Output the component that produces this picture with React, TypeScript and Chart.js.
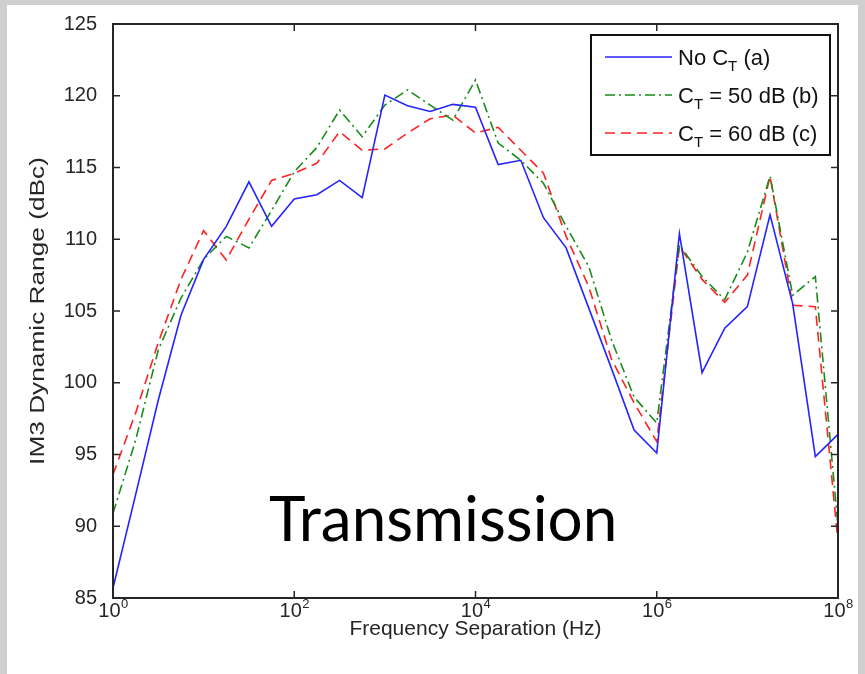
import React, { useEffect, useRef } from "react";
import { Chart, registerables } from "chart.js";

Chart.register(...registerables);

// ---- data ----
const freqHz = [
  1, 1.778, 3.162, 5.623, 10, 17.78, 31.62, 56.23, 100, 177.8, 316.2, 562.3,
  1000, 1778, 3162, 5623, 10000, 17783, 31623, 56234, 100000, 177828, 316228,
  562341, 1000000, 1778279, 3162278, 5623413, 10000000, 17782794, 31622777,
  56234133, 100000000,
];
const noCt = [
  85.7, 92.2, 98.8, 104.7, 108.6, 110.9, 114.0, 110.9, 112.8, 113.1, 114.1,
  112.9, 120.05, 119.3, 118.9, 119.4, 119.2, 115.2, 115.5, 111.5, 109.4, 105.2,
  101.0, 96.7, 95.1, 110.4, 100.7, 103.8, 105.3, 111.7, 105.5, 94.85, 96.4,
];
const ct50 = [
  90.9, 96.0, 102.3, 105.9, 108.6, 110.2, 109.4, 112.0, 114.7, 116.4, 119.0,
  117.15, 119.35, 120.4, 119.35, 118.3, 121.1, 116.7, 115.5, 113.9, 110.9,
  108.1, 103.0, 99.0, 97.2, 109.6, 107.4, 105.8, 109.1, 114.4, 106.1, 107.4,
  90.0,
];
const ct60 = [
  93.6, 97.9, 102.8, 107.2, 110.6, 108.55, 111.4, 114.1, 114.6, 115.3, 117.5,
  116.2, 116.3, 117.4, 118.4, 118.65, 117.4, 117.8, 116.2, 114.6, 110.2, 106.7,
  101.65, 98.6, 95.9, 109.5, 107.2, 105.6, 107.5, 114.4, 105.4, 105.3, 88.9,
];
const legendParts = [
  ["No C", "T", " (a)"],
  ["C", "T", " = 50 dB (b)"],
  ["C", "T", " = 60 dB (c)"],
];
const xTickValues = [1, 100, 10000, 1000000, 100000000];
const xTickBase = "10";
const xTickExps = ["0", "2", "4", "6", "8"];
const yTickValues = [85, 90, 95, 100, 105, 110, 115, 120, 125];
const xTitle = "Frequency Separation (Hz)";
const yTitle = "IM3 Dynamic Range (dBc)";
const annotationText = "Transmission";

const FONT = "'Liberation Sans', Arial, sans-serif";
const BLUE = "#2424ff";
const GREEN = "#1a8c1a";
const RED = "#ff2222";
const AXIS = "#262626";

const framePlugin = {
  id: "frame",
  afterDatasetsDraw(chart: any) {
    const { ctx, chartArea: a, scales } = chart;
    const xs = scales.x;
    const ys = scales.y;
    ctx.save();
    // box
    ctx.strokeStyle = AXIS;
    ctx.lineWidth = 2;
    ctx.strokeRect(a.left, a.top, a.right - a.left, a.bottom - a.top);
    // inward ticks
    ctx.lineWidth = 1.5;
    const tl = 7;
    const seg = (x1: number, y1: number, x2: number, y2: number) => {
      ctx.beginPath();
      ctx.moveTo(x1, y1);
      ctx.lineTo(x2, y2);
      ctx.stroke();
    };
    xTickValues.forEach((v) => {
      const px = xs.getPixelForValue(v);
      seg(px, a.bottom, px, a.bottom - tl);
      seg(px, a.top, px, a.top + tl);
    });
    yTickValues.forEach((v) => {
      const py = ys.getPixelForValue(v);
      seg(a.left, py, a.left + tl, py);
      seg(a.right, py, a.right - tl, py);
    });
    // x tick labels with superscript
    ctx.fillStyle = AXIS;
    ctx.textBaseline = "alphabetic";
    ctx.textAlign = "left";
    xTickValues.forEach((v, i) => {
      const px = xs.getPixelForValue(v);
      ctx.font = `20px ${FONT}`;
      const w1 = ctx.measureText(xTickBase).width;
      ctx.font = `13px ${FONT}`;
      const w2 = ctx.measureText(xTickExps[i]).width;
      const start = px - (w1 + w2) / 2;
      ctx.font = `20px ${FONT}`;
      ctx.fillText(xTickBase, start, a.bottom + 19);
      ctx.font = `13px ${FONT}`;
      ctx.fillText(xTickExps[i], start + w1 + 0.5, a.bottom + 10);
    });
    // y title (rotated, stretched along its length)
    ctx.save();
    ctx.translate(a.left - 75, (a.top + a.bottom) / 2);
    ctx.rotate(-Math.PI / 2);
    ctx.scale(1.25, 1);
    ctx.font = `21px ${FONT}`;
    ctx.textAlign = "center";
    ctx.textBaseline = "middle";
    ctx.fillStyle = AXIS;
    ctx.fillText(yTitle, 0, 0);
    ctx.restore();
    // legend
    const lx = a.right - 247;
    const ly = a.top + 11;
    const lw = 239;
    const lh = 120;
    ctx.fillStyle = "#ffffff";
    ctx.fillRect(lx, ly, lw, lh);
    ctx.strokeStyle = "#111";
    ctx.lineWidth = 2;
    ctx.strokeRect(lx, ly, lw, lh);
    const ds = chart.data.datasets;
    ctx.textAlign = "left";
    ctx.textBaseline = "alphabetic";
    legendParts.forEach((parts, i) => {
      const cy = ly + 22 + i * 38;
      const d = ds[i];
      ctx.strokeStyle = d.borderColor;
      ctx.lineWidth = d.borderWidth;
      ctx.setLineDash(d.borderDash || []);
      seg(lx + 14, cy, lx + 81, cy);
      ctx.setLineDash([]);
      ctx.fillStyle = "#111";
      let tx = lx + 87;
      ctx.font = `22px ${FONT}`;
      ctx.fillText(parts[0], tx, cy + 8);
      tx += ctx.measureText(parts[0]).width;
      ctx.font = `15px ${FONT}`;
      ctx.fillText(parts[1], tx, cy + 14);
      tx += ctx.measureText(parts[1]).width;
      ctx.font = `22px ${FONT}`;
      ctx.fillText(parts[2], tx, cy + 8);
    });
    // annotation
    ctx.fillStyle = "#000";
    ctx.font = `62px Lato, 'Open Sans', sans-serif`;
    ctx.textAlign = "left";
    ctx.fillText(annotationText, 269, 541);
    ctx.restore();
  },
};

export default function App() {
  const ref = useRef<HTMLCanvasElement>(null);
  useEffect(() => {
    const canvas = ref.current;
    if (!canvas) return;
    const mk = (vals: number[]) => vals.map((v, i) => ({ x: freqHz[i], y: v }));
    const chart = new Chart(canvas, {
      type: "line",
      data: {
        datasets: [
          {
            label: "No CT (a)",
            data: mk(noCt),
            borderColor: BLUE,
            borderWidth: 1.6,
            pointRadius: 0,
            tension: 0,
            fill: false,
          },
          {
            label: "CT = 50 dB (b)",
            data: mk(ct50),
            borderColor: GREEN,
            borderWidth: 1.6,
            borderDash: [10, 4, 2, 4],
            pointRadius: 0,
            tension: 0,
            fill: false,
          },
          {
            label: "CT = 60 dB (c)",
            data: mk(ct60),
            borderColor: RED,
            borderWidth: 1.6,
            borderDash: [10, 6],
            pointRadius: 0,
            tension: 0,
            fill: false,
          },
        ],
      } as any,
      options: {
        animation: false,
        responsive: false,
        events: [],
        layout: { padding: { left: 0, top: 24, right: 27, bottom: 0 } },
        plugins: { legend: { display: false }, tooltip: { enabled: false } },
        scales: {
          x: {
            type: "logarithmic",
            min: 1,
            max: 100000000,
            grid: { display: false, drawTicks: false },
            border: { display: false },
            ticks: { display: false },
            title: {
              display: true,
              text: xTitle,
              color: AXIS,
              font: { family: FONT, size: 21 },
              padding: { top: 0, bottom: 32 },
            },
            afterFit: (s: any) => {
              s.height = 76;
            },
          },
          y: {
            type: "linear",
            min: 85,
            max: 125,
            grid: { display: false, drawTicks: true, tickLength: 14 },
            border: { display: false },
            ticks: {
              stepSize: 5,
              padding: 2,
              color: AXIS,
              font: { family: FONT, size: 20 },
            },
            afterFit: (s: any) => {
              s.width = 113;
            },
          },
        },
      } as any,
      plugins: [framePlugin],
    });
    return () => chart.destroy();
  }, []);

  return (
    <div
      style={{
        position: "fixed",
        left: 0,
        top: 0,
        width: 865,
        height: 674,
        background: "#cfcfcf",
        overflow: "hidden",
      }}
    >
      <div
        style={{
          position: "absolute",
          left: 7,
          top: 5,
          right: 7,
          bottom: 0,
          background: "#ffffff",
        }}
      />
      <canvas
        ref={ref}
        width={865}
        height={674}
        style={{ position: "absolute", left: 0, top: 0, width: 865, height: 674 }}
      />
    </div>
  );
}
